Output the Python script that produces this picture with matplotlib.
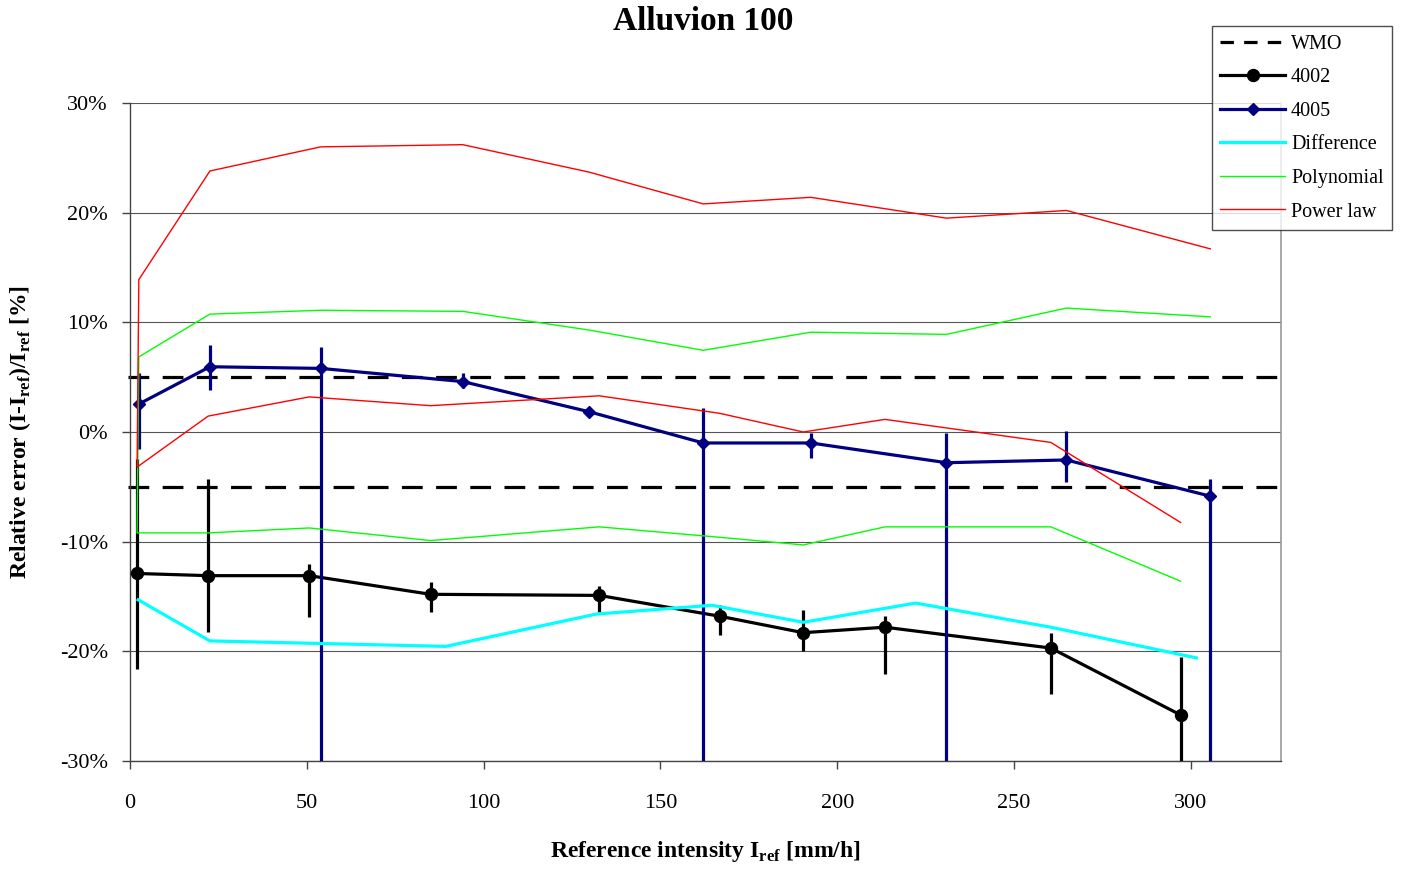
import matplotlib
matplotlib.use("Agg")
import matplotlib.pyplot as plt
from matplotlib.lines import Line2D
from matplotlib.ticker import FixedLocator, FuncFormatter

plt.rcParams['font.family'] = ['Liberation Serif', 'DejaVu Serif']
plt.rcParams['mathtext.fontset'] = 'custom'
plt.rcParams['mathtext.rm'] = 'Liberation Serif:bold'
plt.rcParams['mathtext.bf'] = 'Liberation Serif:bold'

# ---------------- data ----------------
title = "Alluvion 100"
wmo_limits = [5, -5]

x4002 = [2.0, 22.1, 50.7, 85.0, 132.7, 166.8, 190.4, 213.5, 260.4, 297.1]
y4002 = [-12.9, -13.1, -13.1, -14.8, -14.9, -16.8, -18.3, -17.8, -19.7, -25.8]
err4002_up = [10.4, 8.8, 1.1, 1.1, 0.9, 1.0, 2.1, 1.0, 1.4, 5.3]
err4002_dn = [8.75, 5.1, 3.8, 1.65, 1.55, 1.75, 1.65, 4.25, 4.2, 10.0]

x4005 = [2.5, 22.6, 53.9, 94.1, 129.8, 162.1, 192.5, 230.9, 264.8, 305.5]
y4005 = [2.55, 5.95, 5.8, 4.6, 1.85, -1.0, -1.0, -2.8, -2.55, -5.85]
err4005_up = [2.85, 2.0, 1.95, 0.8, 0.35, 3.15, 0.9, 2.7, 2.6, 1.6]
err4005_dn = [4.1, 2.1, 40.0, 0.6, 0.35, 40.0, 1.4, 40.0, 2.0, 40.0]

diff_x = [2.3, 22.6, 89.3, 131.9, 164.5, 190.4, 222.2, 260.4, 301.6]
diff_y = [-15.3, -19.05, -19.55, -16.6, -15.8, -17.35, -15.6, -17.8, -20.6]

poly_upper = [6.85, 10.75, 11.1, 11.0, 9.3, 7.45, 9.1, 8.9, 11.3, 10.5]
poly_lower = [-9.2, -9.2, -8.75, -9.9, -8.65, -9.6, -10.3, -8.65, -8.65, -13.6]
power_upper = [13.9, 23.8, 26.0, 26.2, 23.7, 20.8, 21.4, 19.5, 20.2, 16.7]
power_lower = [-3.2, 1.45, 3.2, 2.4, 3.3, 1.7, 0.0, 1.15, -0.95, -8.25]

x_ticks = [0, 50, 100, 150, 200, 250, 300]
y_ticks = [-30, -20, -10, 0, 10, 20, 30]

# ---------------- figure ----------------
W, H = 1401, 869
fig = plt.figure(figsize=(W / 100, H / 100), dpi=100)
ax = fig.add_axes([130 / W, 1 - 761 / H, (1281 - 130) / W, (761 - 103) / H])

ax.set_xlim(0, 325.5)
ax.set_ylim(-30, 30)

NAVY = '#000080'
CYAN = '#00FFFF'
GREEN = '#00FF00'
RED = '#FF0000'

# WMO limits
for v in wmo_limits:
    ax.axhline(v, xmin=-0.002, xmax=1.008, color='black', lw=2.3,
               linestyle=(0, (6.5, 4.2)), clip_on=False, zorder=2)

# 4002
ax.errorbar(x4002, y4002, yerr=[err4002_dn, err4002_up], fmt='-o', color='black',
            ms=8.6, lw=2.3, elinewidth=2.3, capsize=0, zorder=3)
# 4005
ax.errorbar(x4005, y4005, yerr=[err4005_dn, err4005_up], fmt='-D', color=NAVY,
            ms=6.4, lw=2.3, elinewidth=2.3, capsize=0, zorder=4)
# Difference
ax.plot(diff_x, diff_y, color=CYAN, lw=2.3, zorder=5)
# Polynomial band (lower reversed joined to upper)
ax.plot(x4002[::-1] + x4005, poly_lower[::-1] + poly_upper, color=GREEN, lw=1.0, zorder=6)
# Power law band
ax.plot(x4002[::-1] + x4005, power_lower[::-1] + power_upper, color=RED, lw=1.0, zorder=7)

# axes styling
ax.xaxis.set_major_locator(FixedLocator(x_ticks))
ax.yaxis.set_major_locator(FixedLocator(y_ticks))
ax.yaxis.set_major_formatter(FuncFormatter(lambda v, p: f"{int(round(v))}%"))
ax.xaxis.set_major_formatter(FuncFormatter(lambda v, p: f"{int(round(v))}"))
ax.grid(axis='y', color='#555555', lw=0.8, zorder=0)
ax.set_axisbelow(True)
ax.spines['top'].set_visible(False)
ax.spines['right'].set_color('#999999')
ax.spines['right'].set_linewidth(1.2)
ax.spines['left'].set_color('#444444')
ax.spines['bottom'].set_color('#444444')
ax.spines['left'].set_linewidth(1.0)
ax.spines['bottom'].set_linewidth(1.0)
ax.tick_params(axis='both', direction='out', length=6, width=1.0, color='#444444',
               labelsize=16)
ax.tick_params(axis='y', pad=10)
ax.tick_params(axis='x', pad=18)

ax.set_xlabel(r"Reference intensity I$_{\mathrm{ref}}$ [mm/h]", fontsize=17, fontweight='bold',
              va='center')
ax.xaxis.set_label_coords(0.5, -0.138)
ax.set_ylabel(r"Relative error (I-I$_{\mathrm{ref}}$)/I$_{\mathrm{ref}}$ [%]", fontsize=17,
              fontweight='bold', va='center')
ax.yaxis.set_label_coords(-0.0956, 0.5)

fig.text(703 / W, 1 - 22 / H, title, ha='center', va='center', fontsize=24, fontweight='bold')

handles = [
    Line2D([], [], color='black', lw=2.3, linestyle=(0, (4.2, 3.2))),
    Line2D([], [], color='black', lw=2.3, marker='o', ms=8.6),
    Line2D([], [], color=NAVY, lw=2.3, marker='D', ms=6.4),
    Line2D([], [], color=CYAN, lw=2.3),
    Line2D([], [], color=GREEN, lw=1.0),
    Line2D([], [], color=RED, lw=1.0),
]
labels = ['WMO', '4002', '4005', 'Difference', 'Polynomial', 'Power law']
leg = fig.legend(handles, labels, loc='upper left', bbox_to_anchor=(1212 / W, 1 - 26 / H),
                 frameon=True, fancybox=False, edgecolor='#222222', fontsize=14.5,
                 handlelength=3.2, handletextpad=0.3, labelspacing=0.72, borderpad=0.42,
                 borderaxespad=0)
leg.get_frame().set_linewidth(1.0)

fig.savefig('out.png', dpi=100)
